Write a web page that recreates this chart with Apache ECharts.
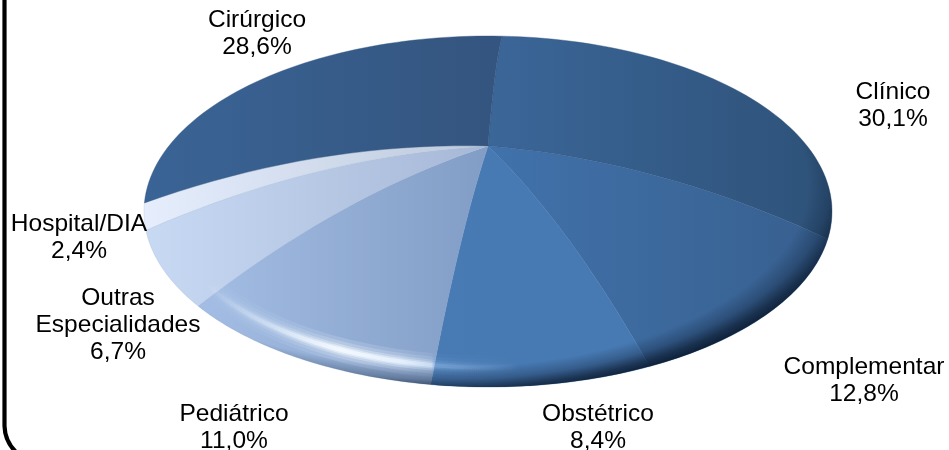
<!DOCTYPE html>
<html>
<head>
<meta charset="utf-8">
<style>html,body{margin:0;padding:0;background:#fff}#c{width:949px;height:450px}</style>
<script src="https://cdn.jsdelivr.net/npm/echarts@6/dist/echarts.min.js"></script>
</head>
<body>
<div id="c"></div>
<script>
const categories = ['Clínico', 'Complementar', 'Obstétrico', 'Pediátrico', 'Outras\nEspecialidades', 'Hospital/DIA', 'Cirúrgico'];
const values = [30.1, 12.8, 8.4, 11.0, 6.7, 2.4, 28.6];
// slice colours: [left end, right end] of a soft horizontal gradient
const sliceColors = [
  ['#3b6698', '#2e5279'],
  ['#4172ab', '#375f8e'],
  ['#4e80bc', '#4779b2'],
  ['#a9c3ea', '#829dc5'],
  ['#c8d9f4', '#a6b8d6'],
  ['#e6eefd', '#bcc9dc'],
  ['#3a6496', '#34557f']
];
const labelCenters = [[893, 106], [864, 381], [598, 428], [234, 428], [118, 325], [79, 238], [257, 34]];

// dome geometry
const cx = 488, cy = 211.5, ra = 344, rb = 175.5, domeH = 65.5;
const tilt = 0.22, startDeg = 3;

function rimAngle(phi) { // perspective foreshortening of the true angle
  const c = Math.cos(phi), s = Math.sin(phi), d = 1 + tilt * c;
  return Math.atan2(s * Math.sqrt(1 - tilt * tilt) / d, (c + tilt) / d);
}
function domePoint(theta, r) {
  return [cx + ra * r * Math.sin(theta), cy - rb * r * Math.cos(theta) - domeH * (1 - r * r)];
}
const total = values.reduce((a, b) => a + b, 0);
function sliceAngles(i) {
  let sum = 0;
  for (let k = 0; k < i; k++) sum += values[k];
  const a0 = startDeg * Math.PI / 180 + sum / total * 2 * Math.PI;
  return [a0, a0 + values[i] / total * 2 * Math.PI];
}
function slicePoints(i) {
  const [a0, a1] = sliceAngles(i), pts = [];
  const t0 = rimAngle(a0);
  for (let r = 0; r <= 1.0001; r += 0.05) pts.push(domePoint(t0, r));
  const N = 60;
  for (let k = 1; k <= N; k++) pts.push(domePoint(rimAngle(a0 + (a1 - a0) * k / N), 1));
  const t1 = rimAngle(a1);
  for (let r = 0.95; r >= 0; r -= 0.05) pts.push(domePoint(t1, r));
  return pts;
}

const chart = echarts.init(document.getElementById('c'), null, { renderer: 'canvas' });
const textFont = '"Liberation Sans", Arial, sans-serif';

function highlightStroke(k) {
  return new echarts.graphic.LinearGradient(205, 0, 520, 0, [
    { offset: 0, color: 'rgba(235,245,255,0)' },
    { offset: 0.21, color: 'rgba(235,245,255,' + 0.4 * k + ')' },
    { offset: 0.43, color: 'rgba(245,250,255,' + 1 * k + ')' },
    { offset: 0.62, color: 'rgba(235,245,255,' + 0.85 * k + ')' },
    { offset: 0.72, color: 'rgba(225,240,255,' + 0.5 * k + ')' },
    { offset: 0.73, color: 'rgba(170,205,250,' + 0.25 * k + ')' },
    { offset: 1, color: 'rgba(170,205,250,0)' }
  ], true);
}

chart.setOption({
  animation: false,
  backgroundColor: '#ffffff',
  graphic: {
    elements: [
      { type: 'line', silent: true, shape: { x1: 4.5, y1: -5, x2: 4.5, y2: 426 }, style: { stroke: '#000', lineWidth: 4.2 } },
      { type: 'bezierCurve', silent: true, shape: { x1: 4.5, y1: 426, cpx1: 5, cpy1: 442, x2: 17, y2: 453 }, style: { fill: null, stroke: '#000', lineWidth: 4.2 } }
    ]
  },
  series: [
    {
      type: 'custom', coordinateSystem: 'none', silent: true, z: 2,
      data: values.map((v, i) => [i, v]),
      renderItem: function (params, api) {
        const i = api.value(0), col = sliceColors[i];
        return {
          type: 'polygon',
          shape: { points: slicePoints(i) },
          style: {
            fill: new echarts.graphic.LinearGradient(i === 0 || i === 1 ? 490 : 145, 0, i === 0 || i === 1 ? 833 : 490, 0, [
              { offset: 0, color: col[0] }, { offset: 1, color: col[1] }
            ], true),
            stroke: col[1], lineWidth: 0.4
          }
        };
      }
    },
    {
      type: 'custom', coordinateSystem: 'none', silent: true, z: 3,
      data: [[0]],
      renderItem: function () {
        const scale = rb / ra;
        const hl = [];
        for (let t = 0; t <= 1.0001; t += 0.02) {
          const a = (175 + t * 83) * Math.PI / 180;
          hl.push([cx + 318 * Math.sin(a), cy - 156 * Math.cos(a)]);
        }
        const band = (w, k) => ({
          type: 'polyline', shape: { points: hl },
          style: { fill: null, lineWidth: w, lineCap: 'round', stroke: highlightStroke(k) }
        });
        return {
          type: 'group',
          children: [
            band(24, 0.16), band(17, 0.22), band(11, 0.35), band(7, 0.55), band(4, 0.85),
            {
              type: 'circle', x: cx, y: cy, scaleY: scale,
              shape: { cx: 0, cy: 0, r: ra },
              style: {
                fill: new echarts.graphic.RadialGradient(0.44, 0.42, 0.6, [
                  { offset: 0, color: 'rgba(12,28,50,0)' },
                  { offset: 0.875, color: 'rgba(12,28,50,0)' },
                  { offset: 0.93, color: 'rgba(12,28,50,0.3)' },
                  { offset: 0.97, color: 'rgba(12,28,50,0.72)' },
                  { offset: 1, color: 'rgba(12,28,50,0.94)' }
                ])
              }
            }
          ]
        };
      }
    },
    {
      type: 'custom', coordinateSystem: 'none', silent: true, z: 4,
      data: values.map((v, i) => [i, v]),
      renderItem: function (params, api) {
        const i = api.value(0), pos = labelCenters[i];
        return {
          type: 'text', x: pos[0], y: pos[1], scaleX: 1.04,
          style: {
            text: categories[i] + '\n' + api.value(1).toFixed(1).replace('.', ',') + '%',
            font: '23.6px ' + textFont, lineHeight: 27,
            fill: '#000', align: 'center', verticalAlign: 'middle'
          }
        };
      }
    }
  ]
});
</script>
</body>
</html>
